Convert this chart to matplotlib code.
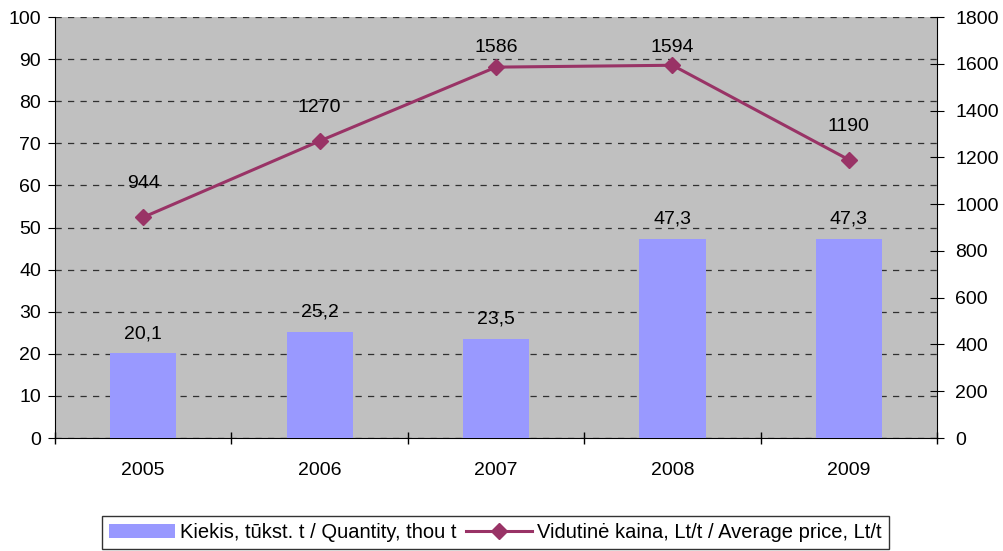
import numpy as np
import matplotlib
matplotlib.use('Agg')
import matplotlib.pyplot as plt

plt.rcParams['font.family'] = ['Liberation Sans', 'DejaVu Sans']

# Duomenys
metai = ['2005', '2006', '2007', '2008', '2009']
kiekis = [20.1, 25.2, 23.5, 47.3, 47.3]
kaina = [944, 1270, 1586, 1594, 1190]
kiekis_etiketes = ['20,1', '25,2', '23,5', '47,3', '47,3']
kaina_etiketes = ['944', '1270', '1586', '1594', '1190']

fs = 14

fig = plt.figure(figsize=(10.04, 5.51), dpi=100)
ax = fig.add_axes([0.0548, 0.205, 0.8785, 0.764])
ax2 = ax.twinx()

x = np.arange(len(metai))

# Stulpeliai
ax.set_facecolor('#C0C0C0')
ax.bar(x, kiekis, width=0.375, color='#9999FF', zorder=3,
       label='Kiekis, tūkst. t / Quantity, thou t')
for xi, v, t in zip(x, kiekis, kiekis_etiketes):
    ax.annotate(t, (xi, v), xytext=(0, 11), textcoords='offset points',
                ha='center', va='baseline', fontsize=fs, zorder=5)

ax.set_ylim(0, 100)
ax.set_yticks(np.arange(0, 101, 10))
ax.set_xlim(-0.5, len(metai) - 0.5)
ax.grid(axis='y', color='#303030', linestyle=(0, (5, 5)), linewidth=0.9, zorder=1)
ax.set_axisbelow(True)

# Kategorijos
ax.set_xticks(x)
ax.set_xticklabels(metai)
ax.set_xticks(np.arange(-0.5, len(metai), 1), minor=True)
ax.tick_params(axis='x', which='major', length=0, pad=17, labelsize=fs)
ax.tick_params(axis='x', which='minor', direction='inout', length=9, width=1)
ax.tick_params(axis='y', direction='out', length=5, pad=5, labelsize=fs)

# Linija
ax2.plot(x, kaina, color='#993366', linewidth=2.2, marker='D', markersize=8.5,
         zorder=4, label='Vidutinė kaina, Lt/t / Average price, Lt/t')
for xi, v, t in zip(x, kaina, kaina_etiketes):
    ax2.text(xi, min(v + 125, 1650), t, ha='center', va='baseline', fontsize=fs)
ax2.set_ylim(0, 1800)
ax2.set_yticks(np.arange(0, 1801, 200))
ax2.tick_params(axis='y', direction='inout', length=10, pad=8, labelsize=fs)

for a in (ax, ax2):
    a.spines['top'].set_visible(False)
ax.spines['right'].set_visible(False)
ax2.spines['left'].set_visible(False)
ax2.spines['bottom'].set_visible(False)

# Legenda
h1, l1 = ax.get_legend_handles_labels()
h2, l2 = ax2.get_legend_handles_labels()
leg = fig.legend(h1 + h2, l1 + l2, loc='lower center', bbox_to_anchor=(0.4935, 0.0),
                 ncol=2, fontsize=14.5, frameon=True, fancybox=False,
                 handlelength=3.3, handletextpad=0.25, columnspacing=0.45,
                 borderpad=0.35, borderaxespad=0.1)
leg.get_frame().set_edgecolor('black')
leg.get_frame().set_linewidth(1)

fig.savefig('out.png', dpi=100)
